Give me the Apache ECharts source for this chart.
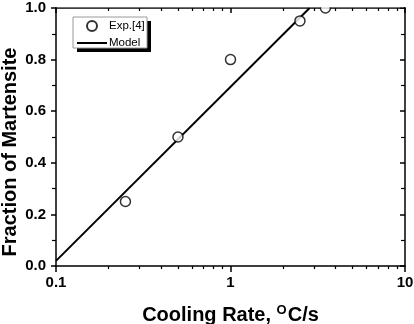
<!DOCTYPE html>
<html>
<head>
<meta charset="utf-8">
<script src="https://cdn.jsdelivr.net/npm/echarts@6/dist/echarts.min.js"></script>
<style>html,body{margin:0;padding:0;background:#fff}#c{width:414px;height:324px}</style>
</head>
<body>
<div id="c"></div>
<script>
// Experimental data (Exp.[4])
var expX = [0.25, 0.5, 1, 2.5, 3.5];
var expY = [0.25, 0.5, 0.8, 0.95, 1.0];
// Model line
var modelX = [0.1, 2.84];
var modelY = [0.02, 1.0];
// Tick values
var xMajor = [0.1, 1, 10];
var xMinor = [0.2, 0.3, 0.4, 0.5, 0.6, 0.7, 0.8, 0.9, 2, 3, 4, 5, 6, 7, 8, 9];

var FF = '"Liberation Sans", Arial, sans-serif';
var chart = echarts.init(document.getElementById('c'), null, {renderer: 'canvas'});

function zip(a, b) { return a.map(function (v, i) { return [v, b[i]]; }); }

var axLine = {show: true, lineStyle: {color: '#000', width: 1.5}};
var baseX = {type: 'log', logBase: 10, min: 0.1, max: 10, splitLine: {show: false}};

chart.setOption({
  animation: false,
  grid: {left: 56, right: 9, top: 8, bottom: 58, containLabel: false, outerBoundsMode: 'none'},
  xAxis: [
    Object.assign({}, baseX, {
      position: 'bottom',
      axisLine: axLine,
      axisTick: {show: true, inside: false, length: 6, lineStyle: {color: '#000', width: 1.5}, customValues: xMajor},
      axisLabel: {show: true, margin: 9, color: '#000', fontSize: 15, fontWeight: 'bold', fontFamily: FF,
        customValues: xMajor, formatter: function (v) { return String(v); }},
      name: 'Cooling Rate, {sup|O}C/s',
      nameLocation: 'middle',
      nameGap: 38,
      nameMoveOverlap: false,
      nameTextStyle: {color: '#000', fontSize: 20, fontWeight: 'bold', fontFamily: FF,
        rich: {sup: {fontSize: 13, fontWeight: 'bold', fontFamily: FF, color: '#000', padding: [0, 1, 9, 0]}}}
    }),
    Object.assign({}, baseX, {
      position: 'bottom',
      axisLine: {show: false},
      axisTick: {show: true, inside: false, length: 3, lineStyle: {color: '#000', width: 1.2}, customValues: xMinor},
      axisLabel: {show: false}
    }),
    Object.assign({}, baseX, {
      position: 'top',
      axisLine: axLine,
      axisTick: {show: true, inside: true, length: 5, lineStyle: {color: '#000', width: 1.5}, customValues: xMajor},
      axisLabel: {show: false}
    }),
    Object.assign({}, baseX, {
      position: 'top',
      axisLine: {show: false},
      axisTick: {show: true, inside: true, length: 3, lineStyle: {color: '#000', width: 1.2}, customValues: xMinor},
      axisLabel: {show: false}
    })
  ],
  yAxis: [
    {
      type: 'value', min: 0, max: 1, interval: 0.2, position: 'left',
      splitLine: {show: false},
      axisLine: axLine,
      axisTick: {show: true, inside: false, length: 5, lineStyle: {color: '#000', width: 1.5}},
      minorTick: {show: true, splitNumber: 2, length: 4, lineStyle: {color: '#000', width: 1.2}},
      axisLabel: {margin: 10, color: '#000', fontSize: 15, fontWeight: 'bold', fontFamily: FF,
        formatter: function (v) { return v.toFixed(1); }},
      name: 'Fraction of Martensite',
      nameLocation: 'middle',
      nameGap: 36,
      nameMoveOverlap: false,
      nameTextStyle: {color: '#000', fontSize: 20, fontWeight: 'bold', fontFamily: FF, padding: [0, 30, 0, 0]}
    },
    {
      type: 'value', min: 0, max: 1, interval: 0.2, position: 'right',
      splitLine: {show: false},
      axisLine: axLine,
      axisTick: {show: true, inside: true, length: 5, lineStyle: {color: '#000', width: 1.5}},
      minorTick: {show: true, splitNumber: 2, length: 4, lineStyle: {color: '#000', width: 1.2}},
      axisLabel: {show: false}
    }
  ],
  graphic: [
    {type: 'rect', z: 40, shape: {x: 57, y: 0, width: 347, height: 7.2}, style: {fill: '#fff'}},
    {type: 'rect', z: 50, shape: {x: 77, y: 21, width: 74, height: 31}, style: {fill: '#000'}},
    {type: 'rect', z: 51, shape: {x: 73, y: 17, width: 74, height: 31}, style: {fill: '#fff', stroke: '#9a9a9a', lineWidth: 1}}
  ],
  legend: {
    z: 60,
    orient: 'vertical',
    left: 76,
    top: 20,
    itemWidth: 30,
    itemHeight: 10,
    itemGap: 5,
    padding: 0,
    data: [
      {name: 'Exp.[4]'},
      {name: 'Model', itemStyle: {color: 'rgba(0,0,0,0)', borderColor: 'rgba(0,0,0,0)', borderWidth: 0}}
    ],
    textStyle: {color: '#000', fontSize: 11.5, fontFamily: FF, padding: [0, 0, 0, -3]}
  },
  series: [
    {
      name: 'Exp.[4]',
      type: 'scatter',
      xAxisIndex: 0, yAxisIndex: 0,
      symbol: 'circle',
      symbolSize: 10,
      itemStyle: {color: '#fff', borderColor: '#000', borderWidth: 1.5},
      data: zip(expX, expY),
      z: 5
    },
    {
      name: 'Model',
      type: 'line',
      xAxisIndex: 0, yAxisIndex: 0,
      symbol: 'none',
      lineStyle: {color: '#000', width: 2},
      itemStyle: {color: '#000'},
      data: zip(modelX, modelY),
      z: 4
    }
  ]
});
</script>
</body>
</html>
